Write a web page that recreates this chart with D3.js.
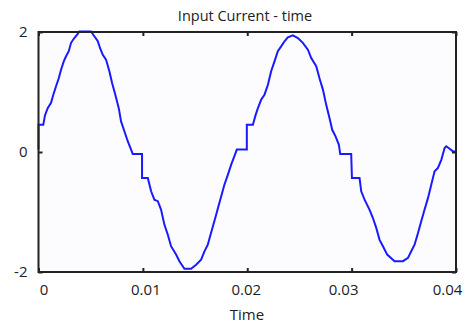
<!DOCTYPE html>
<html>
<head>
<meta charset="utf-8">
<script src="https://cdn.jsdelivr.net/npm/d3@7"></script>
<style>
  html, body { margin: 0; padding: 0; background: #ffffff; }
  svg { display: block; font-family: "Open Sans", "DejaVu Sans", sans-serif; }
</style>
</head>
<body>
<svg id="chart" width="469" height="323"></svg>
<script>
// ---- data (time in seconds, current in A) ----
const times = [
  0.0000, 0.0000, 0.00046, 0.00062, 0.00088, 0.00120, 0.00142, 0.00168, 0.00194, 0.00216,
  0.00242, 0.00264, 0.00290, 0.00312, 0.00343, 0.00376, 0.00391, 0.00503, 0.00535, 0.00568,
  0.00590, 0.00616, 0.00647, 0.00679, 0.00705, 0.00736, 0.00769, 0.00791, 0.00823, 0.00855,
  0.00887, 0.00903, 0.00992, 0.00992, 0.01047, 0.01079, 0.01110, 0.01143, 0.01174, 0.01206,
  0.01239, 0.01270, 0.01318, 0.01350, 0.01398, 0.01462, 0.01510, 0.01558, 0.01590, 0.01622,
  0.01644, 0.01676, 0.01702, 0.01728, 0.01750, 0.01781, 0.01814, 0.01846, 0.01877, 0.01900,
  0.01996, 0.01996, 0.02054, 0.02079, 0.02102, 0.02133, 0.02165, 0.02198, 0.02229, 0.02261,
  0.02293, 0.02325, 0.02357, 0.02389, 0.02437, 0.02485, 0.02533, 0.02581, 0.02613, 0.02661,
  0.02692, 0.02725, 0.02756, 0.02788, 0.02814, 0.02846, 0.02878, 0.02891, 0.02996, 0.03003,
  0.03076, 0.03092, 0.03124, 0.03171, 0.03204, 0.03236, 0.03267, 0.03300, 0.03341, 0.03411,
  0.03492, 0.03540, 0.03571, 0.03603, 0.03636, 0.03667, 0.03699, 0.03732, 0.03763, 0.03795,
  0.03827, 0.03859, 0.03891, 0.03907, 0.03939, 0.03971, 0.04000
];
const current = [
  0.04, 0.455, 0.455, 0.61, 0.73, 0.82, 0.955, 1.095, 1.23, 1.37,
  1.51, 1.595, 1.68, 1.82, 1.90, 1.97, 2.01, 2.01, 1.93, 1.845,
  1.73, 1.62, 1.54, 1.345, 1.15, 0.955, 0.73, 0.51, 0.345, 0.18,
  0.04, -0.035, -0.035, -0.435, -0.435, -0.655, -0.795, -0.82, -0.96, -1.21,
  -1.38, -1.57, -1.71, -1.82, -1.945, -1.945, -1.88, -1.795, -1.655, -1.545,
  -1.405, -1.21, -1.045, -0.88, -0.74, -0.545, -0.38, -0.21, -0.07, 0.04,
  0.04, 0.455, 0.455, 0.61, 0.73, 0.87, 0.955, 1.12, 1.345, 1.51,
  1.68, 1.76, 1.845, 1.91, 1.945, 1.90, 1.82, 1.705, 1.565, 1.43,
  1.23, 1.04, 0.79, 0.565, 0.37, 0.26, 0.12, -0.035, -0.035, -0.435,
  -0.435, -0.655, -0.795, -0.96, -1.10, -1.265, -1.46, -1.57, -1.71, -1.82,
  -1.82, -1.765, -1.655, -1.545, -1.35, -1.155, -0.96, -0.765, -0.545, -0.32,
  -0.265, -0.13, 0.065, 0.095, 0.055, 0.01, 0.01
];
const xTicks = [0, 0.01, 0.02, 0.03, 0.04];
const xTickLabels = ["0", "0.01", "0.02", "0.03", "0.04"];
const yTicks = [-2, 0, 2];
const yTickLabels = ["-2", "0", "2"];
const title = "Input Current - time";
const xTitle = "Time";

// ---- layout ----
const W = 469, H = 323;
const L = 38.5, R = 456, T = 32, B = 272;
const xLabelNudge = [5.5, 3, -1, -8, -8.5]; // label placement tweak (layout only)

const svg = d3.select("#chart");
const x = d3.scaleLinear().domain([0, 0.04]).range([L, R]);
const y = d3.scaleLinear().domain([-2, 2]).range([B, T]);

// plot background
svg.append("rect").attr("x", L).attr("y", T).attr("width", R - L).attr("height", B - T)
  .attr("fill", "#fcfcff");

// data line
const pts = times.map((t, i) => [t, current[i]]);
const line = d3.line().x(d => x(d[0])).y(d => y(d[1]));
svg.append("path").datum(pts).attr("d", line)
  .attr("fill", "none").attr("stroke", "#1a1aff").attr("stroke-width", 2)
  .attr("stroke-linejoin", "miter");

// axes (inward ticks, no labels), on all four sides
const tickLen = 4;
function styleAxis(g) {
  g.select(".domain").remove();
  g.selectAll(".tick line").attr("stroke", "#222").attr("stroke-width", 2);
  g.selectAll(".tick text").remove();
}
svg.append("g").attr("transform", `translate(0,${B})`)
  .call(d3.axisBottom(x).tickValues(xTicks).tickSize(-tickLen)).call(styleAxis);
svg.append("g").attr("transform", `translate(0,${T})`)
  .call(d3.axisTop(x).tickValues(xTicks).tickSize(-tickLen)).call(styleAxis);
svg.append("g").attr("transform", `translate(${L},0)`)
  .call(d3.axisLeft(y).tickValues(yTicks).tickSize(-tickLen)).call(styleAxis);
svg.append("g").attr("transform", `translate(${R},0)`)
  .call(d3.axisRight(y).tickValues(yTicks).tickSize(-tickLen)).call(styleAxis);

// frame
svg.append("rect").attr("x", L).attr("y", T).attr("width", R - L).attr("height", B - T)
  .attr("fill", "none").attr("stroke", "#222").attr("stroke-width", 2);

// tick labels
svg.append("g").selectAll("text").data(xTicks).join("text")
  .attr("x", (d, i) => x(d) + xLabelNudge[i]).attr("y", 295)
  .attr("text-anchor", "middle").attr("font-size", 15).attr("fill", "#222")
  .text((d, i) => xTickLabels[i]);
svg.append("g").selectAll("text").data(yTicks).join("text")
  .attr("x", L - 11).attr("y", d => y(d) + 5)
  .attr("text-anchor", "end").attr("font-size", 15).attr("fill", "#222")
  .text((d, i) => yTickLabels[i]);

// titles
svg.append("text").attr("x", 245).attr("y", 21).attr("text-anchor", "middle")
  .attr("font-size", 14.5).attr("fill", "#222").text(title);
svg.append("text").attr("x", 247).attr("y", 320).attr("text-anchor", "middle")
  .attr("font-size", 15).attr("fill", "#222").text(xTitle);
</script>
</body>
</html>
